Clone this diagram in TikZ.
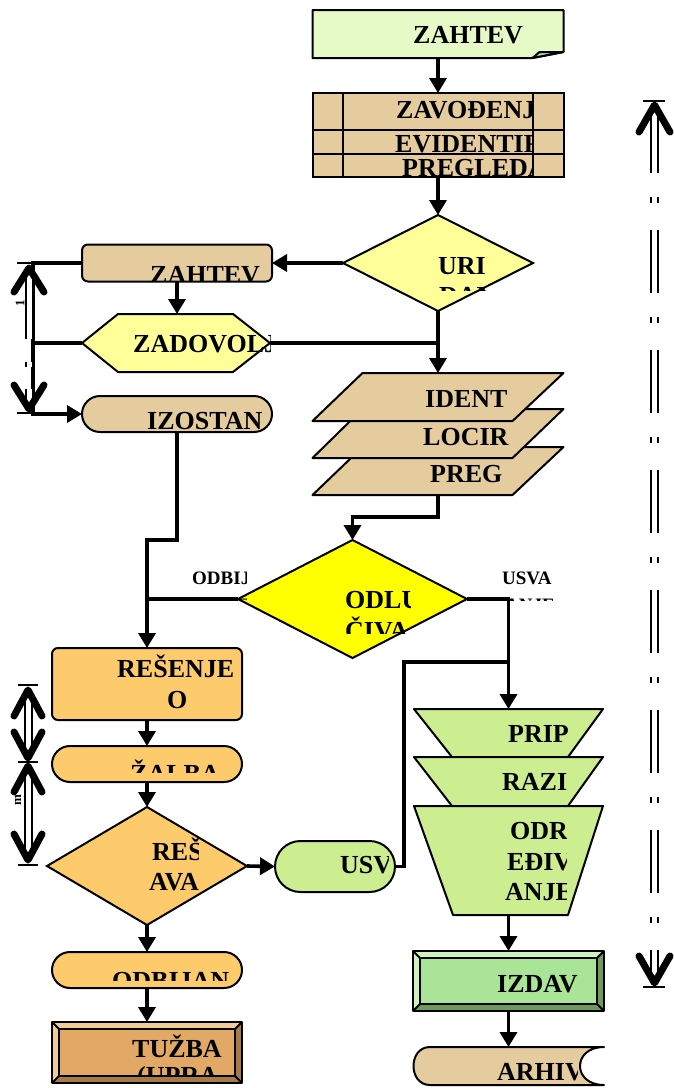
\documentclass[tikz,border=0pt]{standalone}
\usepackage{fontspec}
\setmainfont{Liberation Serif}
\usetikzlibrary{arrows.meta,shapes.geometric,shapes.misc}
\definecolor{notegreen}{HTML}{E6FAC8}
\definecolor{notefold}{HTML}{B8D898}
\definecolor{tan}{HTML}{E5CC9F}
\definecolor{paleyellow}{HTML}{FFFF99}
\definecolor{brightyellow}{HTML}{FFFF00}
\definecolor{flowor}{HTML}{FDCB6B}
\definecolor{litegreen}{HTML}{CCEE90}
\definecolor{izgreen}{HTML}{AAE497}
\definecolor{izlight}{HTML}{CDF2BE}
\definecolor{izdark}{HTML}{6E9A5E}
\definecolor{tuzface}{HTML}{E2A866}
\definecolor{tuzlight}{HTML}{F2CC96}
\definecolor{tuzdark}{HTML}{A87A46}
\tikzset{basic/.style={draw,line width=2pt,inner sep=0,outer sep=0}}
\tikzset{frame/.style 2 args={rectangle,inner sep=0,outer sep=0,
                              minimum width=#1,minimum height=#2}}
\tikzset{decision/.style={basic,diamond}}
\tikzset{terminal/.style={basic,rounded rectangle}}
\tikzset{roundbox/.style={basic,rectangle,rounded corners=6pt}}
\tikzset{outline/.style={line width=2pt,line join=round}}
\tikzset{lbl/.style={inner sep=0,anchor=base west,
                     font=\fontsize{26}{26}\selectfont\bfseries}}
\tikzset{small/.style={font=\fontsize{19}{19}\selectfont\bfseries}}
\tikzset{dimlbl/.style={inner sep=0,rotate=90,font=\fontsize{13}{13}\selectfont\bfseries}}
\tikzset{flow/.style={line width=3.6pt,-{Triangle[width=17pt,length=15pt]}}}
\tikzset{wire/.style={line width=3.6pt}}
\tikzset{shaft/.style={double,line width=2pt,double distance=5pt}}
\tikzset{barb/.style={line width=7pt,line cap=round,line join=round}}
\tikzset{tick/.style={line width=2pt}}
% text cut off by its box
\newcommand{\cliptext}[6][]{\begin{scope}
    \clip (#3) rectangle (#4);
    \node[lbl,#1] (#2) at (#5) {#6};
  \end{scope}}
\newcommand{\sheet}[1]{\filldraw[outline,fill=tan] ([xshift=50pt]#1.north west)
    -- (#1.north east) -- ([xshift=-51pt]#1.south east) -- (#1.south west) -- cycle;}
\newcommand{\funnel}[3]{\filldraw[outline,fill=litegreen] (#1.north west)
    -- (#1.north east) -- ([xshift=-#3]#1.south east) -- ([xshift=#2]#1.south west) -- cycle;}
\newcommand{\bevelbox}[4]{%
  \fill[#3] (#1.north west) -- (#1.north east) -- ([shift={(-7pt,-7pt)}]#1.north east)
        -- ([shift={(7pt,-7pt)}]#1.north west) -- cycle;
  \fill[#3] (#1.north west) -- ([shift={(7pt,-7pt)}]#1.north west)
        -- ([shift={(7pt,7pt)}]#1.south west) -- (#1.south west) -- cycle;
  \fill[#4] (#1.north east) -- ([shift={(-7pt,-7pt)}]#1.north east)
        -- ([shift={(-7pt,7pt)}]#1.south east) -- (#1.south east) -- cycle;
  \fill[#4] (#1.south west) -- ([shift={(7pt,7pt)}]#1.south west)
        -- ([shift={(-7pt,7pt)}]#1.south east) -- (#1.south east) -- cycle;
  \filldraw[outline,fill=#2] ([shift={(7pt,-7pt)}]#1.north west)
        rectangle ([shift={(-7pt,7pt)}]#1.south east);
  \draw[outline] (#1.north west) rectangle (#1.south east);
  \draw[outline] (#1.north west) -- ++(7pt,-7pt) (#1.north east) -- ++(-7pt,-7pt)
        (#1.south west) -- ++(7pt,7pt) (#1.south east) -- ++(-7pt,7pt);}
\begin{document}
\begin{tikzpicture}[x=1pt,y=-1pt]
    \useasboundingbox (0,0) rectangle (673,1088);
    % Request document
    \node[frame={251pt}{48pt}] (zahtev) at (438,34) {};
    \filldraw[outline,fill=notegreen] (zahtev.north west) -- (zahtev.north east)
        -- ([yshift=6pt]zahtev.south east) -- ([xshift=-31pt]zahtev.south east)
        -- (zahtev.south west) -- cycle;
    \filldraw[outline,fill=notefold] ([xshift=-31pt]zahtev.south east)
        -- ([shift={(-24pt,6pt)}]zahtev.south east) -- ([yshift=6pt]zahtev.south east) -- cycle;
    \cliptext{tzahtev}{313,10}{563,58}{413,43}{ZAHTEV}
    % Registration stack
    \node[basic,fill=tan,frame={251pt}{84pt}] (zavod) at (438,135) {};
    \draw[outline] (343,93) -- (343,177) (533,93) -- (533,177)
                   (313,130) -- (563,130) (313,154) -- (563,154);
    \cliptext{tzavod}{343,93}{533,130}{396,118}{ZAVOĐENJ}
    \cliptext{tevid}{343,131}{533,154}{395,152}{EVIDENTIR}
    \cliptext{tpregl}{343,155}{533,177}{402,176}{PREGLEDA}
    % Completeness check
    \node[decision,fill=paleyellow,minimum width=190pt,minimum height=96pt] (uri) at (438,263) {};
    \cliptext{turi}{400,225}{486,290}{438,274}{URI}
    \cliptext{tdan}{400,225}{486,290}{439,304}{DAN}
    % Supplement loop
    \node[roundbox,fill=tan,minimum width=190pt,minimum height=37pt] (zahtev2) at (177,263) {};
    \cliptext{tzahtev2}{82,245}{272,281.5}{150,283}{ZAHTEV}
    \node[frame={188pt}{58pt}] (zadov) at (176,343) {};
    \filldraw[outline,fill=paleyellow] (zadov.west) -- ([xshift=36pt]zadov.north west)
        -- ([xshift=-37pt]zadov.north east) -- (zadov.east)
        -- ([xshift=-37pt]zadov.south east) -- ([xshift=36pt]zadov.south west) -- cycle;
    \cliptext{tzadov}{100,314}{270,368}{133,352}{ZADOVOLJ}
    \node[terminal,fill=tan,minimum width=190pt,minimum height=36pt] (izostan) at (177,414) {};
    \cliptext{tizost}{82,396}{268,432}{147,429}{IZOSTAN}
    % Case sheets, back to front
    \node[frame={251pt}{48pt}] (sheet3) at (438,471) {};
    \sheet{sheet3}
    \cliptext{tpreg}{380,447}{502,495}{430,482}{PREG}
    \node[frame={251pt}{49pt}] (sheet2) at (438,433.5) {};
    \sheet{sheet2}
    \cliptext{tlocir}{380,409}{510,458}{423,445}{LOCIR}
    \node[frame={251pt}{48pt}] (sheet1) at (438,397) {};
    \sheet{sheet1}
    \cliptext{tident}{380,373}{510,421}{425,407}{IDENT}
    % Decision
    \node[decision,fill=brightyellow,minimum width=229pt,minimum height=118pt] (odluc) at (352.5,599) {};
    \cliptext{todlu}{340,575}{410,633}{345,608}{ODLU}
    \cliptext{tciva}{340,575}{410,633}{345,639}{ČIVA}
    \cliptext[small]{todbi}{185,560}{246,600}{192,584}{ODBIJ}
    \cliptext[small]{todbi2}{185,560}{246,600}{200,611}{ANJE}
    \cliptext[small]{tusva}{495,560}{556,600}{502,584}{USVA}
    \cliptext[small]{tusva2}{495,560}{556,600}{505,611}{ANJE}
    % Rejection branch
    \node[roundbox,fill=flowor,minimum width=190pt,minimum height=72pt] (resenje) at (147,684) {};
    \cliptext{tresenje}{52,648}{238,720}{117,677}{REŠENJE}
    \cliptext{tro}{52,648}{238,720}{167,708}{O}
    \node[terminal,fill=flowor,minimum width=190pt,minimum height=36pt] (zalba) at (147,764) {};
    \cliptext{tzalba}{60,746}{235,772}{130,782}{ŽALBA}
    \node[decision,fill=flowor,minimum width=200pt,minimum height=118pt] (resav) at (147,866) {};
    \cliptext{tres}{100,830}{198,900}{152,860}{REŠ}
    \cliptext{tava}{100,830}{198,900}{149,890}{AVA}
    \node[terminal,fill=litegreen,minimum width=120pt,minimum height=51pt] (usv) at (335,866.5) {};
    \cliptext{tusv}{290,841}{388,892}{340,873}{USV}
    \node[terminal,fill=flowor,minimum width=190pt,minimum height=36pt] (odbijan) at (147,970) {};
    \cliptext{todbijan}{60,952}{232,980}{112,989}{ODBIJAN}
    \node[frame={190pt}{61pt}] (tuzba) at (147,1052.5) {};
    \bevelbox{tuzba}{tuzface}{tuzlight}{tuzdark}
    \cliptext{ttuzba}{59,1030}{235,1075}{132,1057}{TUŽBA}
    \cliptext{tupra}{59,1030}{235,1075}{137,1084}{(UPRA}
    % Approval branch
    \node[frame={189pt}{48pt}] (prip) at (508.5,733) {};
    \funnel{prip}{38pt}{35pt}
    \cliptext{tprip}{470,709}{567,757}{508,742}{PRIP}
    \node[frame={189pt}{49pt}] (razi) at (508.5,781.5) {};
    \funnel{razi}{38pt}{35pt}
    \cliptext{trazi}{470,757}{567,806}{502,790}{RAZI}
    \node[frame={189pt}{109pt}] (odr) at (508.5,860.5) {};
    \funnel{odr}{39pt}{35pt}
    \cliptext{todr}{470,806}{566,912}{510,839}{ODR}
    \cliptext{tediv}{470,806}{566,912}{507,870}{EĐIV}
    \cliptext{tanje}{470,806}{566,912}{505,900}{ANJE}
    \node[frame={191pt}{60pt}] (izdav) at (508.5,981) {};
    \bevelbox{izdav}{izgreen}{izlight}{izdark}
    \cliptext{tizdav}{420,958}{582,1004}{497,992}{IZDAV}
    \node[frame={191pt}{38pt}] (arhiv) at (508.5,1066) {};
    \filldraw[outline,fill=tan] (arhiv.north east) -- (430,1047)
        .. controls (408,1047) and (408,1085) .. (430,1085) -- (arhiv.south east)
        .. controls (572,1085) and (572,1047) .. (arhiv.north east) -- cycle;
    \cliptext{tarhiv}{420,1047}{577,1085}{497,1080}{ARHIV}
    % Connectors
    \coordinate (loopx) at (33,0);
    \coordinate (bendA) at (147,540);
    \coordinate (bendB) at (404,662);
    \coordinate (bendC) at (352.5,517);
    \draw[flow] (zahtev) -- (zavod);
    \draw[flow] (zavod) -- (uri);
    \draw[flow] (uri.west) -- (zahtev2.east);
    \draw[flow] (zahtev2.south -| zadov.north) ++(1,0) -- ([xshift=1pt]zadov.north);
    \draw[flow] (uri.south) -- (sheet1.north);
    \draw[wire] (zadov.east) -- (zadov.east -| uri.south);
    \draw[flow] (zahtev2.west) -| (loopx |- izostan.west) -- (izostan.west);
    \draw[wire] (zadov.west) -- (zadov.west -| loopx);
    \draw[flow] (izostan.south) |- (bendA) -- (resenje.north);
    \draw[wire] (odluc.west) -- (odluc.west -| bendA);
    \draw[flow] (sheet3.south) |- (bendC) -- (odluc.north);
    \draw[flow] (odluc.east) -| (prip.north);
    \draw[wire] (usv.east) -| (bendB) -- (bendB -| prip.north);
    \draw[flow] (resenje) -- (zalba);
    \draw[flow] (zalba) -- (resav);
    \draw[flow] (resav.east) -- (usv.west);
    \draw[flow] (resav.south) -- (odbijan.north);
    \draw[flow] (odbijan) -- (tuzba);
    \draw[flow] (odr.south) -- (izdav.north);
    \draw[flow] (izdav) -- (arhiv);
    % Dimension marks, left
    \draw[tick] (17,263) -- (33,263) (17,413) -- (33,413);
    \draw[shaft,dash pattern=on 69pt off 23pt on 5pt off 22pt] (29,270) -- (29,408);
    \draw[barb] (14,292) -- (29,268) -- (44,292);
    \draw[barb] (14,385) -- (29,409) -- (44,385);
    \node[dimlbl] (dimone) at (20,303) {1};
    \draw[tick] (18,685) -- (38,685) (18,762) -- (38,762) (18,865) -- (38,865);
    \draw[shaft] (28,692) -- (28,756);
    \draw[shaft] (28,768) -- (28,858);
    \draw[barb] (14,716) -- (28,690) -- (42,716);
    \draw[barb] (14,732) -- (28,758) -- (42,732);
    \draw[barb] (14,792) -- (28,766) -- (42,792);
    \draw[barb] (14,834) -- (28,860) -- (42,834);
    \node[dimlbl] (dimm) at (18,800) {m};
    % Dimension mark, right
    \draw[tick] (643,101) -- (665,101) (643,987) -- (665,987);
    \draw[shaft,dash pattern=on 63pt off 24pt on 6pt off 27pt] (654.5,110) -- (654.5,980);
    \draw[barb] (639,132) -- (654.5,105) -- (670,132);
    \draw[barb] (639,956) -- (654.5,983) -- (670,956);
\end{tikzpicture}
\end{document}
